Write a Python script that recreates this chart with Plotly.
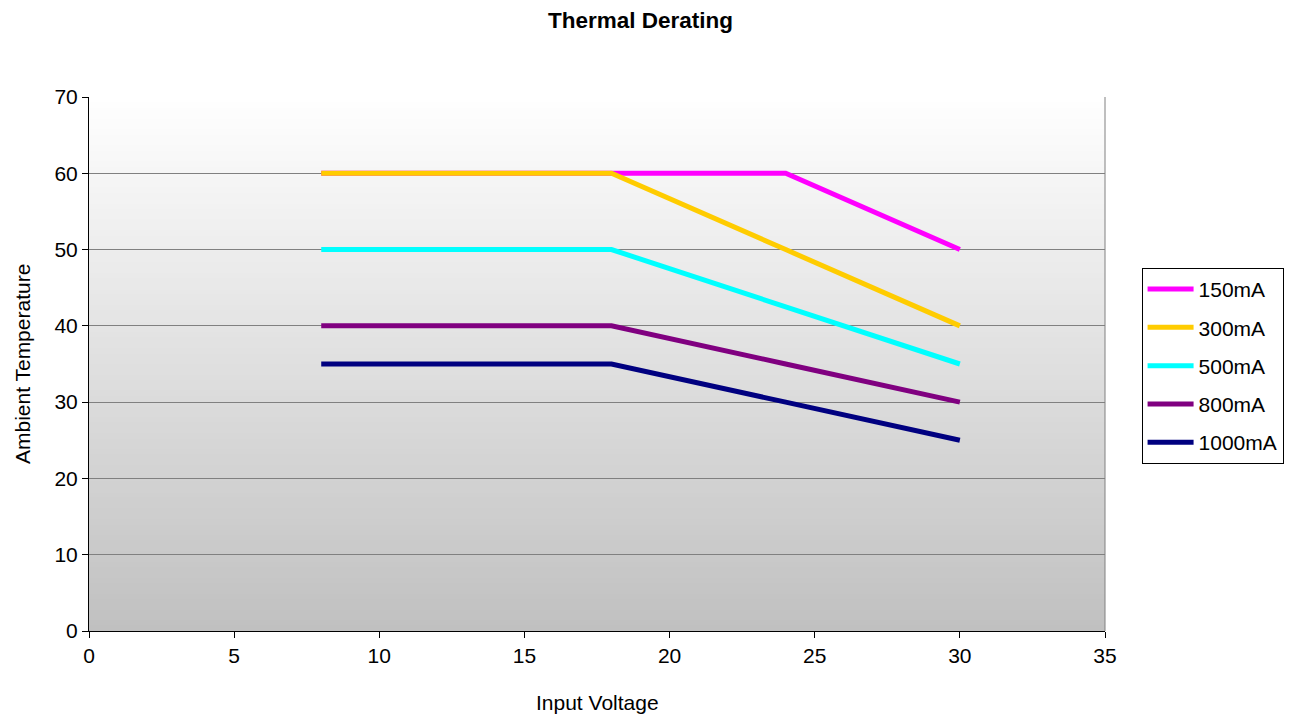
import plotly.graph_objects as go

voltage = [8, 18, 24, 30]
series_names = ["150mA", "300mA", "500mA", "800mA", "1000mA"]
temp_150 = [60, 60, 60, 50]
temp_300 = [60, 60, 50, 40]
temp_500 = [50, 50, 42.5, 35]
temp_800 = [40, 40, 35, 30]
temp_1000 = [35, 35, 30, 25]
colors = ["#FF00FF", "#FFCC00", "#00FFFF", "#800080", "#000080"]

values = [temp_150, temp_300, temp_500, temp_800, temp_1000]

fig = go.Figure()
for i, (name, vals, c) in enumerate(zip(series_names, values, colors)):
    fig.add_trace(go.Scatter(x=voltage, y=vals, mode="lines", name=name,
                             legendgroup=name,
                             line=dict(color=c, width=5)))

# gradient background
shapes = []
n = 100
for k in range(n):
    t = k / n
    g = int(round(255 - (255 - 192) * (1 - (k + 0.5) / n)))
    shapes.append(dict(type="rect", xref="paper", yref="paper",
                       x0=0, x1=1, y0=t, y1=(k + 1) / n + 0.002,
                       fillcolor=f"rgb({g},{g},{g})", line=dict(width=0),
                       layer="below"))
shapes.append(dict(type="line", xref="paper", yref="paper", x0=1, x1=1, y0=0, y1=1,
                   line=dict(color="#808080", width=1)))
fig.update_layout(shapes=shapes)

font = "Liberation Sans, Arial, sans-serif"
fig.update_layout(
    width=1291, height=711,
    margin=dict(l=81, r=194, t=89, b=88),
    paper_bgcolor="white",
    plot_bgcolor="rgba(0,0,0,0)",
    font=dict(family=font, size=21, color="black"),
    title=dict(text="<b>Thermal Derating</b>", x=0.49, xanchor="center",
               y=0.983, yanchor="middle", font=dict(size=22.5, family=font)),
    xaxis=dict(range=[0, 35], dtick=5, showgrid=False, zeroline=False,
               showline=True, linecolor="black", linewidth=1,
               ticks="outside", ticklen=6, tickcolor="black", automargin=False),
    yaxis=dict(range=[0, 70], dtick=10, showgrid=True, gridcolor="#808080",
               gridwidth=1, zeroline=False,
               showline=True, linecolor="black", linewidth=1,
               ticks="outside", ticklen=6, tickcolor="black", automargin=False),
    legend=dict(x=1.036, y=0.68, xanchor="left", yanchor="top",
                bordercolor="black", borderwidth=1, bgcolor="white",
                tracegroupgap=8, itemwidth=46, font=dict(size=21)),
    annotations=[
        dict(text="Input Voltage", xref="paper", yref="paper", x=0.5, y=-0.1348,
             xanchor="center", yanchor="middle", showarrow=False, font=dict(size=21)),
        dict(text="Ambient Temperature", xref="paper", yref="paper", x=-0.0659, y=0.5,
             xanchor="center", yanchor="middle", textangle=-90, showarrow=False,
             font=dict(size=21)),
    ],
)

fig.write_html("out.html")
